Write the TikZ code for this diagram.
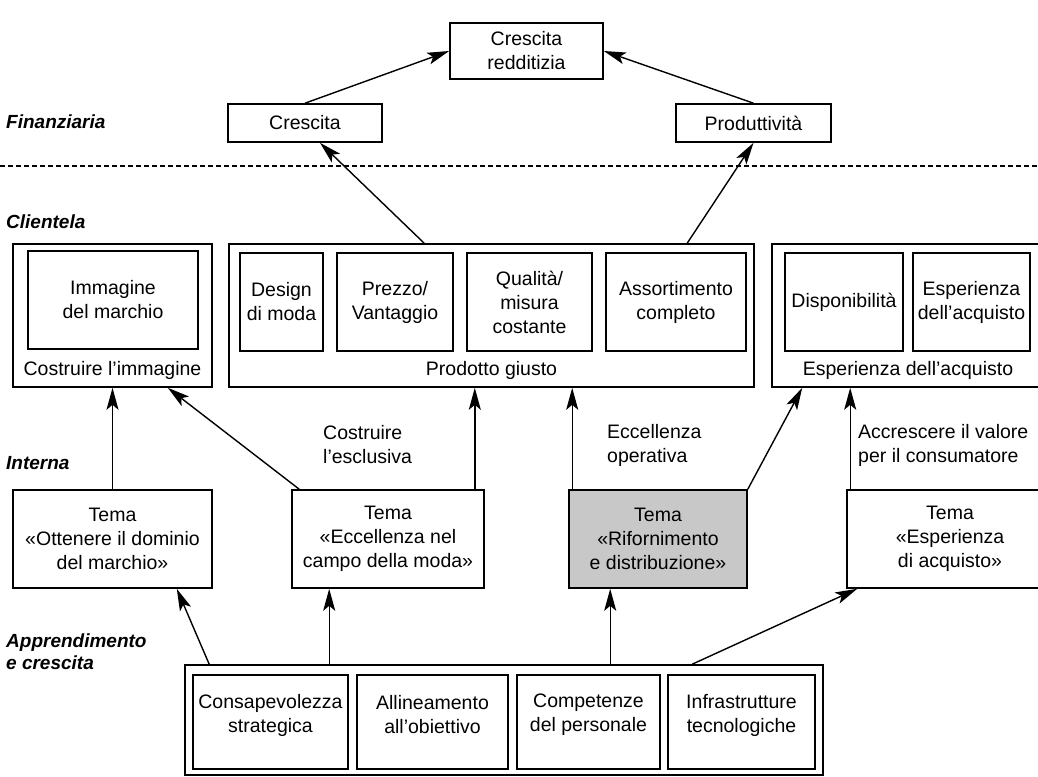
\documentclass[tikz,border=0pt]{standalone}
\usepackage{fontspec}
\setmainfont{Liberation Sans}
\usetikzlibrary{arrows.meta,calc}
\definecolor{shade}{RGB}{200,200,200}
\begin{document}
\begin{tikzpicture}[x=1pt,y=-1pt,
  every node/.style={font=\fontsize{19.5}{24}\selectfont, inner sep=0pt},
  box/.style={draw, line width=1.6pt, rectangle, align=center},
  sect/.style={font=\fontsize{19}{22}\selectfont\bfseries\itshape, anchor=west, align=left},
  lab/.style={anchor=west, align=left},
  arr/.style={line width=1.4pt, -{Stealth[length=22pt,width=12pt,inset=5pt]}},
  ln/.style={line width=1.4pt}]
\useasboundingbox[fill=white] (0,0) rectangle (1038,776);

% Finanziaria
\node[box, minimum width=153pt, minimum height=56pt] (red) at (526.5,51) {Crescita\\redditizia};
\node[box, minimum width=154pt, minimum height=38pt] (cres) at (305,123) {Crescita};
\node[box, minimum width=155pt, minimum height=38pt] (prod) at (753.5,123) {Produttività};
\node[sect] (sfin) at (6,122) {Finanziaria};
\coordinate (dl) at (0,166);
\coordinate (dr) at (1038,166);
\draw[line width=1.4pt, dash pattern=on 5pt off 3pt] (dl) -- (dr);

% Clientela
\node[sect] (scli) at (6,222) {Clientela};
\node[box, minimum width=199pt, minimum height=143pt] (C1) at (112.5,315.5) {};
\node[box, minimum width=170pt, minimum height=98pt] (imm) at (113,300) {Immagine\\del marchio};
\node (c1l) at (112.5,370) {Costruire l’immagine};

\node[box, minimum width=525pt, minimum height=143pt] (C2) at (491.5,315.5) {};
\node[box, minimum width=83pt, minimum height=98pt] (des) at (281.5,302) {Design\\di moda};
\node[box, minimum width=116pt, minimum height=98pt] (pre) at (395,302) {Prezzo/\\Vantaggio};
\node[box, minimum width=125pt, minimum height=98pt] (qua) at (529.5,302) {Qualità/\\misura\\costante};
\node[box, minimum width=140pt, minimum height=98pt] (ass) at (676,302) {Assortimento\\completo};
\node (c2l) at (491.5,370) {Prodotto giusto};

\node[box, minimum width=273pt, minimum height=143pt] (C3) at (908.5,315.5) {};
\node[box, minimum width=118pt, minimum height=98pt] (dis) at (844,302) {Disponibilità};
\node[box, minimum width=117pt, minimum height=98pt] (esp) at (971.5,302) {Esperienza\\dell’acquisto};
\node (c3l) at (908,370) {Esperienza dell’acquisto};

% Interna
\node[sect] (sint) at (6,463) {Interna};
\node[lab] (l1) at (323,445) {Costruire\\l’esclusiva};
\node[lab] (l2) at (607,445) {Eccellenza\\operativa};
\node[lab] (l3) at (858,445) {Accrescere il valore\\per il consumatore};

\node[box, minimum width=199pt, minimum height=98pt] (T1) at (112.5,539) {Tema\\«Ottenere il dominio\\del marchio»};
\node[box, minimum width=192pt, minimum height=98pt] (T2) at (388,539) {Tema\\«Eccellenza nel\\campo della moda»};
\node[box, fill=shade, minimum width=178pt, minimum height=98pt] (T3) at (658,539) {Tema\\«Rifornimento\\e distribuzione»};
\node[box, minimum width=206pt, minimum height=98pt] (T4) at (950,539) {Tema\\«Esperienza\\di acquisto»};

% Apprendimento e crescita
\node[sect] (sapp) at (6,652) {Apprendimento\\e crescita};
\node[box, minimum width=638pt, minimum height=110pt] (B) at (504,720) {};
\node[box, minimum width=155pt, minimum height=94pt] (b1) at (270.5,722) {};
\node[box, minimum width=151pt, minimum height=94pt] (b2) at (432.5,722) {};
\node[box, minimum width=143pt, minimum height=94pt] (b3) at (588.5,722) {};
\node[box, minimum width=147pt, minimum height=94pt] (b4) at (741.5,722) {};
\node[align=center] (b1t) at (270.5,715) {Consapevolezza\\strategica};
\node[align=center] (b2t) at (432.5,715) {Allineamento\\all’obiettivo};
\node[align=center] (b3t) at (588.5,715) {Competenze\\del personale};
\node[align=center] (b4t) at (741.5,715) {Infrastrutture\\tecnologiche};

% connectors
\draw[arr] (cres.north) -- (red.west);
\draw[arr] (prod.north) -- (red.east);
\draw[arr] ($(C2.north west)+(196,0)$) -- ($(cres.south)+(15,0)$);
\draw[arr] ($(C2.north west)+(459,0)$) -- (prod.south);

\draw[arr] (T1.north) -- (C1.south);
\draw[arr] ($(T2.north west)+(8,0)$) -- ($(C1.south east)+(-45,0)$);
\draw[arr] ($(T2.north east)+(-10,0)$) -- ($(T2.north east |- C2.south)+(-10,0)$);
\draw[arr] ($(T3.north west)+(4,0)$) -- ($(T3.north west |- C2.south)+(4,0)$);
\draw[arr] (T3.north east) -- ($(C3.south west)+(31,0)$);
\draw[arr] ($(T4.north west)+(4,0)$) -- ($(T4.north west |- C3.south)+(4,0)$);

\draw[arr] ($(B.north west)+(25,0)$) -- ($(T1.south east)+(-36,0)$);
\draw[arr] ($(B.north west)+(145,0)$) -- ($(B.north west |- T2.south)+(145,0)$);
\draw[arr] ($(B.north west)+(426,0)$) -- ($(B.north west |- T3.south)+(426,0)$);
\draw[arr] ($(B.north west)+(508,0)$) -- ($(T4.south west)+(11,0)$);
\end{tikzpicture}
\end{document}
